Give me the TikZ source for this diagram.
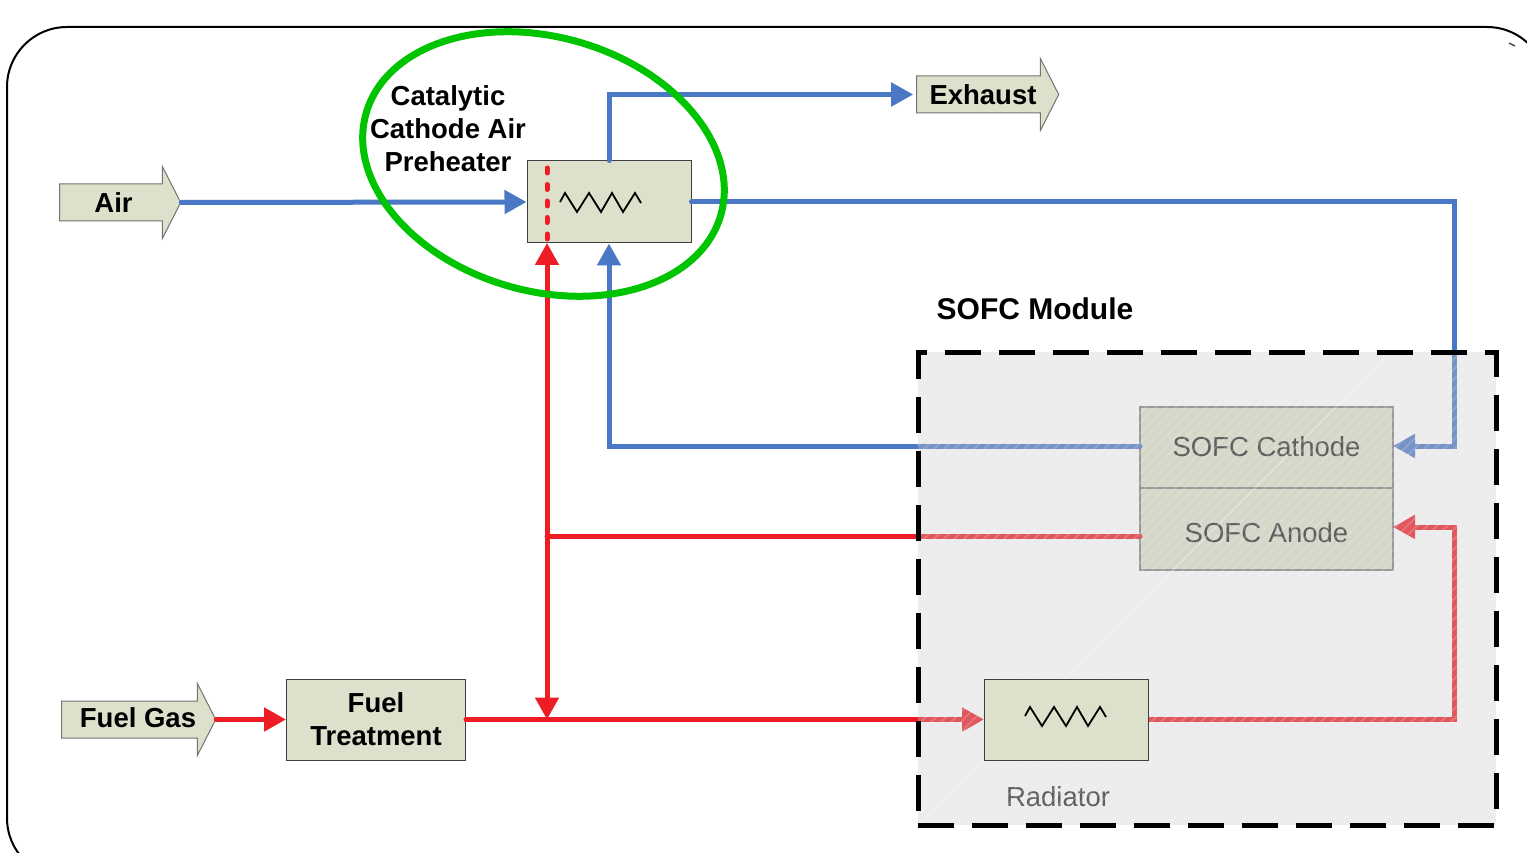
\documentclass[tikz,border=0pt]{standalone}
\usepackage{fontspec}
\setmainfont{Liberation Sans}
\usetikzlibrary{arrows.meta,shapes.arrows,shapes.geometric}

\definecolor{boxgreen}{HTML}{DDE0CB}
\definecolor{flowblue}{HTML}{4A78C4}
\definecolor{flowred}{HTML}{EE1C25}
\definecolor{ringgreen}{HTML}{00C400}
\definecolor{veilgray}{HTML}{C8C8C8}

\pgfdeclarelayer{under}
\pgfdeclarelayer{veil}
\pgfsetlayers{under,veil,main}

\tikzset{
    bigtext/.style={font=\fontsize{27.5}{33}\selectfont\bfseries, align=center},
    plaintext/.style={font=\fontsize{27.5}{33}\selectfont, text=black!85},
    stream/.style={single arrow, draw=black!55, fill=boxgreen, line width=1pt, inner sep=0,
        single arrow tip angle=126, single arrow head extend=17.5pt, minimum width=71pt,
        text height=28pt, text depth=8pt, bigtext},
    unit/.style={rectangle, draw=black!75, fill=boxgreen, line width=1pt, inner sep=0},
    cell/.style={rectangle, draw=black!50, fill=boxgreen, line width=1.2pt, inner sep=0,
        minimum width=253pt, plaintext},
    blueline/.style={flowblue, line width=5pt, line cap=round},
    redline/.style={flowred, line width=5pt, line cap=round},
    tip/.style={-{Triangle[length=22pt,width=23pt]}},
    bothtips/.style={{Triangle[length=22pt,width=23pt]}-{Triangle[length=22pt,width=23pt]}},
    zigzag/.pic={
        \draw[black, line width=1.8pt] (0,0) -- (5,-9) -- (17,10) -- (29,-9) -- (41,10)
            -- (52,-9) -- (63,10) -- (75,-9) -- (81,1);
    }
}

\begin{document}
\begin{tikzpicture}[x=1pt,y=-1pt]
    \useasboundingbox (0,0) rectangle (1527,853);

    % Draw frame
    \begin{scope}
        \clip (0,0) rectangle (1527,853);
        \draw[black, line width=2pt, rounded corners=60pt] (7,27) rectangle (1547,878);
        \draw[black!70, line width=1.5pt] (1509,43) -- (1515,46);
    \end{scope}

    % Radiator stays above the veil
    \node[unit, minimum width=164pt, minimum height=81pt] (radiator) at (1066.5,719.5) {};
    \pic at (1025,716) {zigzag};

    \begin{pgfonlayer}{under}
        % Draw units
        \node[stream, minimum height=121pt] (air) at (115.5,202.5) {Air\hspace{4pt}};
        \node[stream, minimum height=154pt, text height=26pt, text depth=10pt] (fuelgas) at (134,719.5) {\hspace*{8pt}Fuel Gas};
        \node[stream, minimum height=142pt] (exhaust) at (983,94.5) {Exhaust};
        \node[unit, minimum width=164pt, minimum height=82pt] (preheater) at (609,202) {};
        \node[unit, bigtext, minimum width=179pt, minimum height=81pt] (fueltreat) at (376,719.5) {Fuel\\Treatment};
        \node[cell, minimum height=81pt, text height=18pt, text depth=0pt] (cathode) at (1266.5,447.5) {SOFC Cathode};
        \node[cell, minimum height=82pt, text height=26pt, text depth=0pt] (anode) at (1266.5,529) {SOFC Anode};
        \node[plaintext] (radiatorlabel) at (1058,797) {Radiator};

        \coordinate (rightbus) at (1454,202);
        \coordinate (cathodeout) at (1140,446);
        \coordinate (cathodein) at (1393,446);
        \coordinate (anodeout) at (1140,536);
        \coordinate (anodein) at (1393,527);
        \coordinate (fueljoin) at (547,536);
        \coordinate (fueltop) at (547,243);
        \coordinate (fuelbottom) at (547,719.5);
        \coordinate (fueldots) at (547,168);

        % Draw blue streams
        \draw[blueline, tip] (air.tip) -- (preheater.west);
        \draw[blueline, tip, shorten >=3pt] (preheater.north) |- (exhaust.west);
        \draw[blueline, tip] (preheater.east) -- (rightbus) -- (cathodein -| rightbus) -- (cathodein);
        \draw[blueline, tip] (cathodeout) -| (preheater.south);

        % Draw red streams
        \draw[redline, tip] (fuelgas.tip) -- (fueltreat.west);
        \draw[redline, tip] (fueltreat.east) -- (radiator.west);
        \draw[redline, tip] (radiator.east) -- (radiator.east -| rightbus) -- (anodein -| rightbus) -- (anodein);
        \draw[redline] (anodeout) -- (fueljoin);
        \draw[redline, bothtips] (fueltop) -- (fuelbottom);
        \draw[flowred, line width=5pt, line cap=round, dash pattern=on 5pt off 11.5pt] (fueldots) -- (fueltop);

        % Draw heater coil and ring
        \pic at (560,202) {zigzag};
        \node[ellipse, draw=ringgreen, line width=7pt, inner sep=0, minimum width=369pt, minimum height=254pt, rotate=-16] (ring) at (543.5,164) {};

        % Draw texts
        \node[bigtext] (heaterlabel) at (448,129) {Catalytic\\Cathode Air\\Preheater};
        \node[font=\fontsize{30}{36}\selectfont\bfseries] (modulelabel) at (1035,309) {SOFC Module};
    \end{pgfonlayer}

    % Draw module veil
    \begin{pgfonlayer}{veil}
        \node[rectangle, inner sep=0, minimum width=578pt, minimum height=473pt, fill=veilgray, fill opacity=0.35] (modulefill) at (1207,588.5) {};
        \begin{scope}
            \clip (modulefill.north west) rectangle (modulefill.south east);
            \foreach \k in {0,10,...,1060} {
                \draw[white, line width=1.5pt, draw opacity=0.18] (918+\k,825) -- (918+\k+473,352);
                \draw[white, line width=1.5pt, draw opacity=0.18] (918-\k,825) -- (918-\k+473,352);
            }
        \end{scope}
        \node[rectangle, inner sep=0, minimum width=578pt, minimum height=473pt, draw=black, line width=5pt,
            dash pattern=on 36pt off 18pt] (module) at (1207,588.5) {};
    \end{pgfonlayer}
\end{tikzpicture}
\end{document}
